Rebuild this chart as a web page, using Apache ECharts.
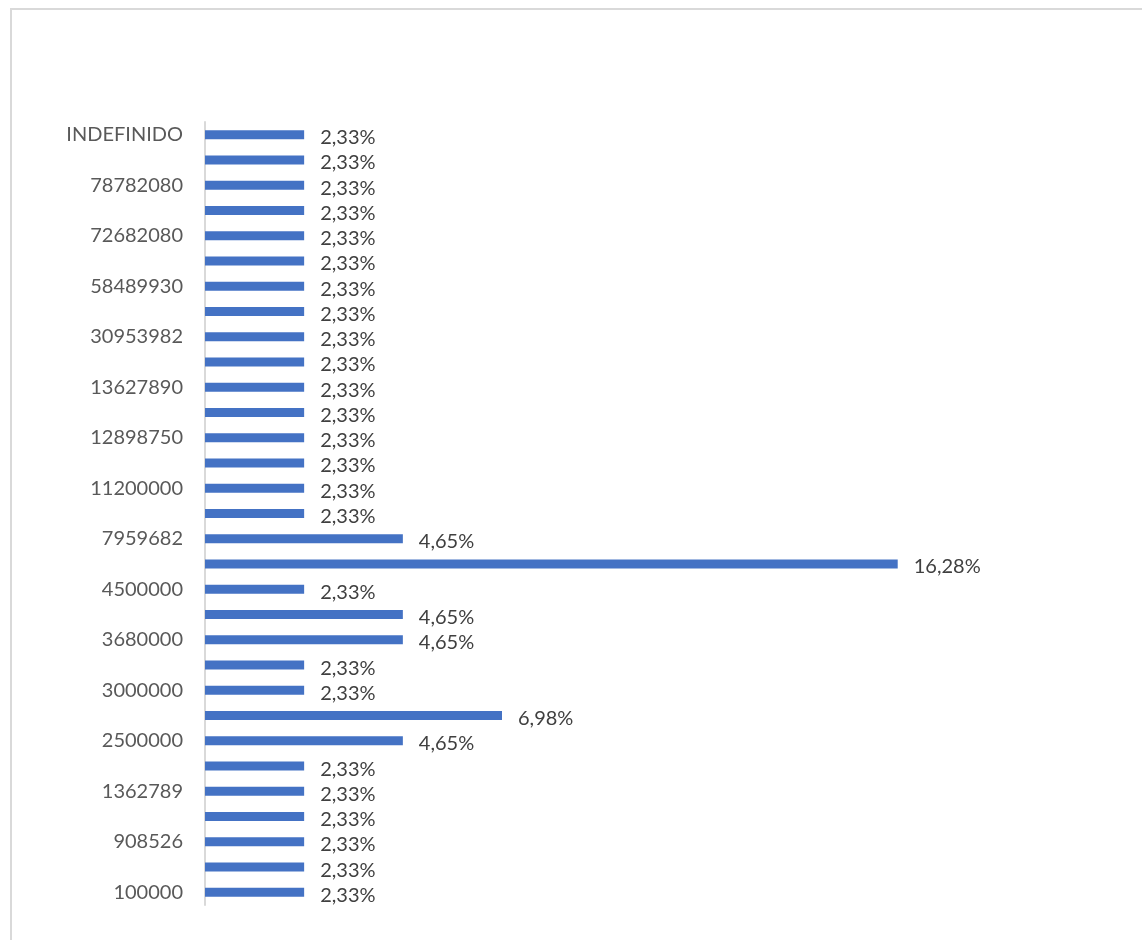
<!DOCTYPE html>
<html>

<head>
    <meta charset="utf-8">
    <script type="text/javascript" src="https://cdn.jsdelivr.net/npm/echarts@6/dist/echarts.min.js"></script>
    <title>ECharts</title>
    <style>
        body { margin: 0; background: #fff; }
        #frame { position: absolute; left: 10px; top: 8px; width: 1200px; height: 1000px; border: 2px solid #d9d9d9; box-sizing: border-box; }
        #container { position: absolute; left: 0; top: 0; width: 1142px; height: 940px; }
    </style>
</head>

<body>
    <div id="frame"></div>
    <div id="container"></div>
    <script type="text/javascript">
    // categories from bottom to top (only every other one is labelled in the picture)
    var categories = [
        '100000', '', '908526', '', '1362789', '', '2500000', '', '3000000', '',
        '3680000', '', '4500000', '', '7959682', '', '11200000', '', '12898750', '',
        '13627890', '', '30953982', '', '58489930', '', '72682080', '', '78782080', '',
        'INDEFINIDO'
    ];

    // share in percent, same order
    var values = [
        2.33, 2.33, 2.33, 2.33, 2.33, 2.33, 4.65, 6.98, 2.33, 2.33,
        4.65, 4.65, 2.33, 16.28, 4.65, 2.33, 2.33, 2.33, 2.33, 2.33,
        2.33, 2.33, 2.33, 2.33, 2.33, 2.33, 2.33, 2.33, 2.33, 2.33,
        2.33
    ];

    var myChart = echarts.init(document.getElementById('container'));

    var option = {
        animation: false,
        textStyle: { fontFamily: 'Lato' },
        grid: { left: 205, right: 86, top: 122, bottom: 35 },
        xAxis: {
            type: 'value',
            min: 0,
            max: 20,
            show: false
        },
        yAxis: {
            type: 'category',
            data: categories,
            axisLine: { show: true, lineStyle: { color: '#d9d9d9', width: 2 } },
            axisTick: { show: false },
            axisLabel: {
                interval: 1,
                margin: 22,
                fontSize: 20,
                color: '#595959',
                fontFamily: 'Lato'
            }
        },
        series: [{
            type: 'bar',
            data: values,
            barWidth: 9,
            itemStyle: { color: '#4472c4' },
            label: {
                show: true,
                position: 'right',
                distance: 16,
                offset: [0, 3],
                fontSize: 20,
                color: '#404040',
                fontFamily: 'Lato',
                formatter: function (p) {
                    return p.value.toFixed(2).replace('.', ',') + '%';
                }
            }
        }]
    };

    myChart.setOption(option);
    </script>
</body>

</html>
